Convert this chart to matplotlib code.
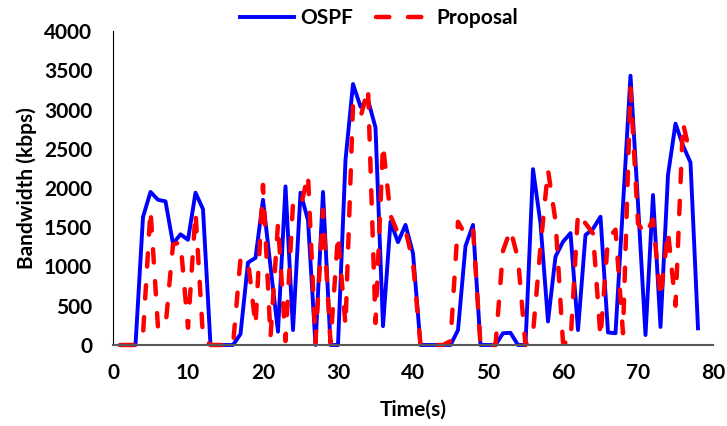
import numpy as np
import matplotlib
matplotlib.use('Agg')
import matplotlib.pyplot as plt

plt.rcParams['font.family'] = ['Lato', 'DejaVu Sans']
plt.rcParams['font.weight'] = 'bold'

# time in seconds
time = list(range(1, 79))

# OSPF bandwidth (kbps)
ospf = [0, 0, 0, 1630, 1950, 1850, 1830, 1290, 1410, 1340,
        1940, 1730, 0, 0, 0, 0, 140, 1050, 1110, 1850,
        1000, 170, 2020, 190, 1940, 1590, 0, 1950, 0, 0,
        2357, 3325, 3036, 3121, 2770, 240, 1570, 1310, 1530, 1168,
        0, 0, 0, 0, 0, 190, 1260, 1530, 0, 0,
        0, 150, 155, 0, 0, 2240, 1550, 300, 1125, 1316,
        1425, 190, 1400, 1480, 1634, 160, 150, 1780, 3430, 1800,
        127, 1911, 230, 2166, 2820, 2540, 2325, 212]

# Proposal bandwidth (kbps), last sample missing
proposal = [0, 0, 0, 130, 1720, 220, 230, 1280, 1310, 220,
            1690, 100, 0, 0, 0, 0, 1100, 1080, 250, 2040,
            100, 1550, 50, 1800, 1750, 2170, 30, 1720, 30, 1400,
            250, 3050, 2900, 3270, 280, 2550, 1650, 1420, 1470, 1050,
            0, 0, 0, 0, 50, 1570, 1400, 1480, 0, 0,
            0, 1200, 1470, 1100, 0, 150, 1250, 2230, 1580, 30,
            30, 1680, 1550, 1420, 100, 1350, 1470, 150, 3270, 1550,
            1400, 1600, 600, 1450, 500, 2830, 2400, np.nan]

fig = plt.figure(figsize=(7.27, 4.26), dpi=100)
ax = fig.add_axes([113/727, 1-345/426, 600/727, 314/426])

ax.plot(time, ospf, color='#0000FF', lw=2.8, label='OSPF', clip_on=False)
ax.plot(time, proposal, color='#FF0000', lw=3.2, label='Proposal', clip_on=False,
        dashes=(3, 4.2), dash_capstyle='round')

ax.set_xlim(0, 80)
ax.set_ylim(0, 4000)
ax.set_xticks(range(0, 81, 10))
ax.set_yticks(range(0, 4001, 500))
ax.tick_params(length=0, labelsize=15)
ax.tick_params(axis='y', pad=15)
ax.tick_params(axis='x', pad=13)

for s in ['top', 'right']:
    ax.spines[s].set_visible(False)
ax.spines['left'].set_color('#000000')
ax.spines['left'].set_linewidth(0.8)
ax.spines['bottom'].set_color('#595959')
ax.spines['bottom'].set_linewidth(1.5)

ax.set_xlabel('Time(s)', fontsize=15, fontweight='bold', labelpad=12)
ax.set_ylabel('Bandwidth (kbps)', fontsize=15, fontweight='bold', labelpad=5)

fig.legend(loc='center', bbox_to_anchor=(379/727, 1-18/426), ncol=2,
           frameon=False, fontsize=15, handlelength=2.6, handletextpad=0.3,
           columnspacing=1.1)

fig.savefig('out.png', dpi=100)
